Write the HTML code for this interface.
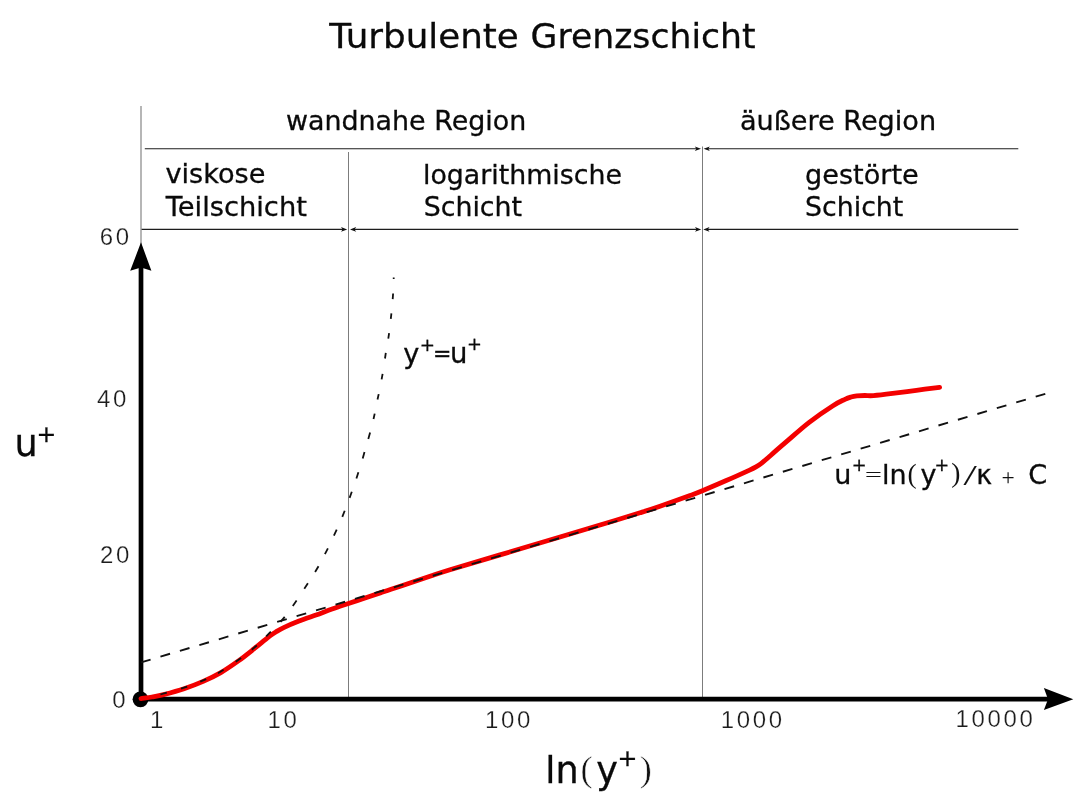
<!DOCTYPE html>
<html lang="de">
<head>
<meta charset="utf-8">
<title>Turbulente Grenzschicht</title>
<style>
html,body{margin:0;padding:0;background:#fff;}
body{width:1091px;height:807px;overflow:hidden;}
svg{display:block;}
.v{font-family:"DejaVu Sans","Liberation Sans",sans-serif;fill:#0a0a0a;stroke:#0a0a0a;stroke-width:0.3px;}
.n{font-family:"Liberation Sans","DejaVu Sans",sans-serif;fill:#1c1c1c;font-size:24px;letter-spacing:2.65px;stroke:#fff;stroke-width:0.25px;paint-order:fill stroke;}
.p{font-family:"DejaVu Sans Light","DejaVu Sans","Liberation Sans",sans-serif;font-weight:200;fill:#111;stroke:none;}
.s{font-family:"Liberation Serif","DejaVu Serif",serif;fill:#111;stroke:none;}
.t{stroke:#fff;stroke-width:0.5px;paint-order:fill stroke;}
</style>
</head>
<body>
<svg width="1091" height="807" viewBox="0 0 1091 807">
<rect width="1091" height="807" fill="#fff"/>
<line x1="141" y1="106" x2="141" y2="245" stroke="#b6b6b6" stroke-width="2"/>
<g stroke="#7c7c7c" stroke-width="1" fill="none">
<line x1="348.5" y1="152" x2="348.5" y2="699"/>
<line x1="702.5" y1="146.5" x2="702.5" y2="699"/>
</g>
<g stroke="#1c1c1c" stroke-width="1.1" fill="none">
<line x1="144.8" y1="148.75" x2="697" y2="148.75"/>
<line x1="708" y1="148.75" x2="1018.3" y2="148.75"/>
<line x1="141.6" y1="229.4" x2="343" y2="229.4"/>
<line x1="354" y1="229.4" x2="697" y2="229.4"/>
<line x1="708" y1="229.4" x2="1018.3" y2="229.4"/>
</g>
<g fill="#111">
<path d="M701 148.75 L694.8 146.45 L696.4 148.75 L694.8 151.05Z"/>
<path d="M703.6 148.75 L709.8 146.45 L708.2 148.75 L709.8 151.05Z"/>
<path d="M347.2 229.4 L341 227.1 L342.6 229.4 L341 231.7Z"/>
<path d="M350 229.4 L356.2 227.1 L354.6 229.4 L356.2 231.7Z"/>
<path d="M701.2 229.4 L695 227.1 L696.6 229.4 L695 231.7Z"/>
<path d="M703.3 229.4 L709.5 227.1 L707.9 229.4 L709.5 231.7Z"/>
</g>
<g stroke="#000" stroke-width="4.7" fill="none">
<line x1="141" y1="266" x2="141" y2="699"/>
<line x1="141" y1="699.2" x2="1048" y2="699.2"/>
</g>
<path d="M141 242.3 L151.4 270.8 L141 267.4 L130.2 270.8Z" fill="#000"/>
<path d="M1073.3 699.2 L1043.9 688 L1048 699.2 L1043.9 710Z" fill="#000"/>
<circle cx="140.5" cy="699.3" r="7.9" fill="#000"/>
<path d="M141.0 698.6 C142.8 698.3 148.2 697.7 152.0 697.0 C155.8 696.3 158.2 696.0 163.6 694.6 C168.9 693.2 177.5 690.9 184.1 688.7 C190.7 686.5 197.1 684.1 203.2 681.4 C209.3 678.7 214.9 676.0 220.8 672.6 C226.7 669.2 232.8 664.9 238.4 660.9 C244.0 656.9 250.1 651.9 254.5 648.4 C258.9 644.9 262.4 641.9 265.0 639.8 C267.6 637.7 268.2 637.1 270.0 635.8 C271.8 634.5 273.5 633.4 275.8 632.0 C278.1 630.6 279.9 629.4 283.7 627.6 C287.5 625.8 293.0 623.4 298.4 621.3 C303.8 619.2 310.4 617.0 316.0 615.0 C321.6 613.0 326.7 611.0 332.1 609.1 C337.5 607.2 342.6 605.5 348.5 603.5 C354.4 601.5 361.7 599.1 367.3 597.2 C372.9 595.3 377.4 593.8 382.0 592.3 C386.6 590.8 390.3 589.5 395.0 588.0 C399.7 586.5 404.2 585.0 410.0 583.0 C415.8 581.0 423.3 578.5 430.0 576.3 C436.7 574.1 438.3 573.4 450.0 569.8 C461.7 566.2 481.7 560.4 500.0 554.9 C518.3 549.4 543.3 542.0 560.0 537.0 C576.7 532.0 586.7 529.0 600.0 525.0 C613.3 521.0 630.0 515.9 640.0 512.8 C650.0 509.7 651.7 509.2 660.0 506.3 C668.3 503.4 682.9 498.2 690.0 495.6 C697.1 493.0 696.4 493.3 702.4 490.8 C708.4 488.3 717.8 484.2 725.7 480.8 C733.6 477.4 744.6 472.4 749.6 470.1 C754.6 467.8 754.1 467.9 756.0 466.8 C757.9 465.7 758.9 465.2 761.0 463.6 C763.1 462.0 764.6 460.7 768.6 457.2 C772.6 453.7 778.5 448.5 785.3 442.7 C792.1 436.9 801.2 428.6 809.2 422.4 C817.2 416.2 827.0 409.5 833.0 405.7 C839.0 401.9 841.9 400.8 844.9 399.3 C847.9 397.9 849.0 397.6 851.0 397.0 C853.0 396.4 854.5 396.1 856.8 395.8 C859.1 395.6 862.2 395.5 865.0 395.5 C867.8 395.5 868.9 396.0 873.5 395.6 C878.1 395.2 885.5 394.3 892.6 393.4 C899.8 392.5 908.6 391.3 916.4 390.3 C924.2 389.3 935.7 387.8 939.6 387.3" stroke="#f30000" stroke-width="4.8" fill="none" stroke-linecap="round" stroke-linejoin="round"/>
<g stroke="#111" fill="none" stroke-width="1.8">
<path d="M141 662.4 L1046.3 393.5" stroke-dasharray="10 10.29" stroke-width="1.9"/>
<path d="M160.4 694.5 L166.8 692.7 M181.0 688.7 L187.2 686.7 M200.2 681.7 L206.2 679.1 M218.0 673.2 L223.6 669.8 M235.7 661.7 L241.1 657.9 M251.8 649.7 L256.8 645.5 M266.2 636.3 L270.8 631.7 M280.5 621.8 L284.7 616.8 M292.8 605.9 L296.6 600.5 M304.3 588.8 L307.9 583.2 M315.1 572.0 L318.5 566.2 M324.9 554.1 L327.9 548.3 M333.9 535.7 L336.7 529.7 M342.3 516.9 L344.7 510.7 M349.6 497.9 L351.8 491.7 M356.4 478.5 L358.4 472.3 M362.7 458.5 L364.5 452.1 M368.3 438.9 L370.1 432.5 M373.5 419.0 L374.7 413.6 M377.5 399.5 L378.7 394.1 M381.6 379.4 L382.6 373.8 M385.0 358.5 L385.8 352.9 M388.3 338.7 L389.1 333.1 M390.8 318.9 L391.4 313.3 M392.7 299.1 L393.1 293.5 M393.7 278.9 L393.7 277.5"/>
</g>
<text class="v" transform="translate(329.3 48.3) scale(1.051 1)" font-size="34">Turbulente</text>
<text class="v" transform="translate(530.6 48.3) scale(1.019 1)" font-size="34">Grenzschicht</text>
<text class="v" transform="translate(285.9 129.5) scale(1.004 1)" font-size="26.8">wandnahe Region</text>
<text class="v" transform="translate(739.9 129.7) scale(1.012 1)" font-size="26.8">äußere Region</text>
<text class="v" transform="translate(165.5 183.4) scale(1.013 1)" font-size="26.8">viskose</text>
<text class="v" transform="translate(165.7 215.5) scale(1.02 1)" font-size="26.8">Teilschicht</text>
<text class="v" transform="translate(423 184.3) scale(1.0 1)" font-size="26.8">logarithmische</text>
<text class="v" transform="translate(423.7 216.4) scale(1.0 1)" font-size="26.8">Schicht</text>
<text class="v" transform="translate(805.1 184) scale(1.011 1)" font-size="26.8">gestörte</text>
<text class="v" transform="translate(805.1 216) scale(0.998 1)" font-size="26.8">Schicht</text>
<text class="n" x="99.8" y="244.6">60</text>
<text class="n" x="96.9" y="407.3">40</text>
<text class="n" x="100" y="563">20</text>
<text class="n" x="112.2" y="707.8">0</text>
<text class="n" x="150" y="728">1</text>
<text class="n" x="267.45" y="728">10</text>
<text class="n" x="484.95" y="728.3">100</text>
<text class="n" x="720.75" y="728">1000</text>
<text class="n" x="955.55" y="727">10000</text>
<text class="v" font-size="36.6"><tspan x="14.5" y="455.7">u</tspan><tspan x="36.6" y="442" font-size="23.6">+</tspan></text>
<text class="v" font-size="36.6"><tspan x="545.3" y="783">ln</tspan><tspan class="s t" x="580.4" y="781.3" font-size="36.4">(</tspan><tspan x="596.3" y="782.9">y</tspan><tspan x="617.6" y="766.1" font-size="23.8">+</tspan><tspan class="s t" x="639.7" y="781.3" font-size="36.4">)</tspan></text>
<text class="v" font-size="27.2"><tspan x="403.25" y="363">y</tspan><tspan x="419.7" y="350.8" font-size="18.2">+</tspan><tspan x="433" y="361.4" font-size="22">=</tspan><tspan x="450" y="363" font-size="27.5">u</tspan><tspan x="466.9" y="350.3" font-size="17.8">+</tspan></text>
<text class="v" font-size="27"><tspan x="834.3" y="483.9">u</tspan><tspan x="851.8" y="471.2" font-size="17.7">+</tspan><tspan class="p" x="863.9" y="481.8" font-size="22.5">=</tspan><tspan x="881.9" y="483.9">ln</tspan><tspan class="s" x="907.4" y="482.5" font-size="27.4">(</tspan><tspan x="920.4" y="483.9">y</tspan><tspan x="934.6" y="471" font-size="17.5">+</tspan><tspan class="s" x="951.2" y="482.4" font-size="27.6">)</tspan></text>
<text class="p" transform="translate(962.7 482.5) scale(1.843 1)" font-size="23.84">/</text>
<text class="v" font-size="26.8"><tspan x="976.3" y="483.9">κ </tspan><tspan class="s" x="1001.5" y="484.7" font-size="23.4">+ </tspan><tspan x="1028.2" y="483.9" font-size="27.2">C</tspan></text>
</svg>
</body>
</html>
